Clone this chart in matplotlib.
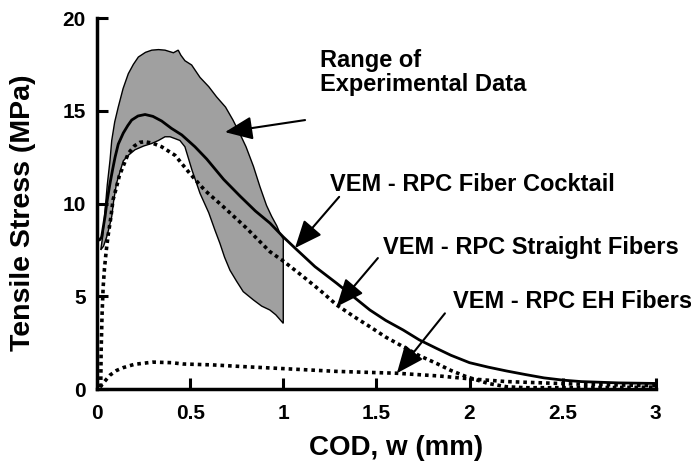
import matplotlib
matplotlib.use("Agg")
import matplotlib.pyplot as plt

plt.rcParams['font.family'] = ['Liberation Sans', 'DejaVu Sans']
plt.rcParams['font.weight'] = 'bold'

# Experimental range (upper and lower envelope)
band_upper_x = [0.02, 0.03, 0.043, 0.055, 0.07, 0.079, 0.095, 0.114, 0.14, 0.168, 0.195, 0.222, 0.26, 0.294, 0.33,
                0.365, 0.41, 0.436, 0.45, 0.472, 0.508, 0.553, 0.6, 0.642, 0.69, 0.73, 0.77, 0.80, 0.84, 0.875,
                0.91, 0.938, 0.965, 0.982, 1.0]
band_upper_y = [7.5, 8.2, 9.6, 11.0, 12.35, 13.4, 14.4, 15.2, 16.2, 17.0, 17.5, 17.9, 18.15, 18.27, 18.3,
                18.27, 18.13, 18.27, 18.0, 17.7, 17.47, 16.8, 16.3, 15.75, 15.2, 14.5, 13.7, 13.06, 12.0, 10.9,
                9.9, 9.3, 8.8, 8.4, 8.1]
band_lower_x = [0.02, 0.035, 0.052, 0.065, 0.079, 0.09, 0.105, 0.12, 0.141, 0.168, 0.204, 0.25, 0.294, 0.33,
                0.365, 0.392, 0.419, 0.445, 0.472, 0.51, 0.553, 0.6, 0.633, 0.66, 0.685, 0.714, 0.75, 0.785,
                0.84, 0.884, 0.928, 0.96, 1.0]
band_lower_y = [7.5, 7.7, 8.2, 8.7, 9.3, 10.2, 11.1, 11.6, 12.3, 12.6, 12.9, 13.1, 13.24, 13.4,
                13.6, 13.6, 13.5, 13.4, 13.06, 11.8, 10.55, 9.5, 8.57, 7.85, 7.1, 6.4, 5.8, 5.25,
                4.8, 4.47, 4.26, 4.0, 3.54]

# VEM - RPC Fiber Cocktail
cock_x = [0.0, 0.015, 0.025, 0.043, 0.055, 0.07, 0.085, 0.097, 0.114, 0.141, 0.165, 0.186, 0.22, 0.258, 0.30,
          0.347, 0.40, 0.455, 0.526, 0.589, 0.68, 0.768, 0.85, 0.929, 1.0, 1.063, 1.17, 1.287, 1.38, 1.465,
          1.55, 1.644, 1.73, 1.823, 1.9, 2.0, 2.1, 2.2, 2.3, 2.4, 2.5, 2.6, 2.8, 3.0]
cock_y = [8.0, 8.05, 8.2, 9.3, 10.2, 11.1, 11.9, 12.5, 13.2, 13.8, 14.2, 14.5, 14.72, 14.8, 14.7,
          14.45, 14.05, 13.7, 13.06, 12.4, 11.3, 10.4, 9.6, 8.94, 8.2, 7.6, 6.6, 5.7, 4.95, 4.26,
          3.7, 3.18, 2.65, 2.19, 1.82, 1.42, 1.18, 0.97, 0.78, 0.6, 0.48, 0.4, 0.33, 0.3]

# VEM - RPC Straight Fibers
str_x = [0.02, 0.022, 0.027, 0.033, 0.04, 0.05, 0.06, 0.075, 0.086, 0.105, 0.12, 0.14, 0.168, 0.2, 0.23,
         0.258, 0.3, 0.347, 0.419, 0.5, 0.58, 0.678, 0.8, 0.929, 1.0, 1.107, 1.2, 1.287, 1.38, 1.465,
         1.55, 1.644, 1.73, 1.823, 1.9, 1.984, 2.1, 2.2, 2.3, 2.5, 2.75, 3.0]
str_y = [0.1, 2.0, 4.0, 5.5, 6.5, 7.5, 8.3, 9.3, 10.2, 10.9, 11.5, 12.0, 12.7, 13.1, 13.3,
         13.33, 13.25, 13.06, 12.6, 11.6, 10.7, 9.83, 8.7, 7.4, 6.9, 6.06, 5.3, 4.53, 3.9, 3.36,
         2.8, 2.28, 1.8, 1.38, 1.0, 0.66, 0.3, 0.12, 0.07, 0.07, 0.08, 0.1]

# VEM - RPC EH Fibers
eh_x = [0.016, 0.04, 0.07, 0.105, 0.14, 0.2, 0.3, 0.4, 0.46, 0.62, 0.8, 1.0, 1.287, 1.61, 1.84, 2.0, 2.2, 2.56, 3.0]
eh_y = [0.1, 0.4, 0.75, 1.0, 1.15, 1.33, 1.45, 1.42, 1.35, 1.3, 1.2, 1.1, 0.95, 0.85, 0.7, 0.55, 0.4, 0.27, 0.18]

fig = plt.figure(figsize=(6.91, 4.63), dpi=100)
ax = fig.add_axes([0.1404, 0.1598, 0.949 - 0.1404, 0.961 - 0.1598])

poly_x = band_upper_x + band_lower_x[::-1]
poly_y = band_upper_y + band_lower_y[::-1]
ax.fill(poly_x, poly_y, facecolor='#a0a0a0', edgecolor='black', linewidth=1.0, zorder=1)

ax.plot(cock_x, cock_y, color='black', lw=2.0, zorder=3)
ax.plot(str_x, str_y, color='black', lw=2.6, linestyle=(0, (1, 1)), zorder=3)
ax.plot(eh_x, eh_y, color='black', lw=2.6, linestyle=(0, (1, 1.1)), zorder=3)

ax.set_xlim(0, 3)
ax.set_ylim(0, 20)
ax.set_xticks([0, 0.5, 1, 1.5, 2, 2.5, 3])
ax.set_xticklabels(['0', '0.5', '1', '1.5', '2', '2.5', '3'])
ax.set_yticks([0, 5, 10, 15, 20])
for s in ['top', 'right']:
    ax.spines[s].set_visible(False)
for s in ['left', 'bottom']:
    ax.spines[s].set_linewidth(2.5)
ax.tick_params(direction='in', length=8, width=2.2, labelsize=15)
ax.tick_params(axis='x', pad=11)
ax.tick_params(axis='y', pad=8)
for lab in ax.get_xticklabels() + ax.get_yticklabels():
    lab.set_fontweight('bold')
ax.set_xlabel('COD, w (mm)', fontsize=20, fontweight='bold')
ax.set_ylabel('Tensile Stress (MPa)', fontsize=20.5, fontweight='bold')
ax.xaxis.set_label_coords(0.535, -0.125)
ax.yaxis.set_label_coords(-0.11, 0.475)

ap = dict(arrowstyle='-|>,head_length=1.3,head_width=0.55', mutation_scale=13,
          color='black', lw=1.5, shrinkA=0, shrinkB=0)
fs = 17
ax.text(1.197, 18.35, 'Range of\nExperimental Data', fontsize=fs, fontweight='bold',
        ha='left', va='top', linespacing=1.1, zorder=5)
ax.annotate('', xy=(0.687, 13.85), xytext=(1.117, 14.5), arrowprops=ap, zorder=5)
ax.text(1.25, 11.0, 'VEM - RPC Fiber Cocktail', fontsize=fs, fontweight='bold',
        ha='left', va='center', zorder=5)
ax.annotate('', xy=(1.063, 7.6), xytext=(1.30, 10.36), arrowprops=ap, zorder=5)
ax.text(1.535, 7.65, 'VEM - RPC Straight Fibers', fontsize=fs, fontweight='bold',
        ha='left', va='center', zorder=5)
ax.annotate('', xy=(1.287, 4.44), xytext=(1.508, 7.06), arrowprops=ap, zorder=5)
ax.text(1.91, 4.74, 'VEM - RPC EH Fibers', fontsize=fs, fontweight='bold',
        ha='left', va='center', zorder=5)
ax.annotate('', xy=(1.61, 0.85), xytext=(1.868, 4.08), arrowprops=ap, zorder=5)

fig.savefig('out.png', dpi=100)
